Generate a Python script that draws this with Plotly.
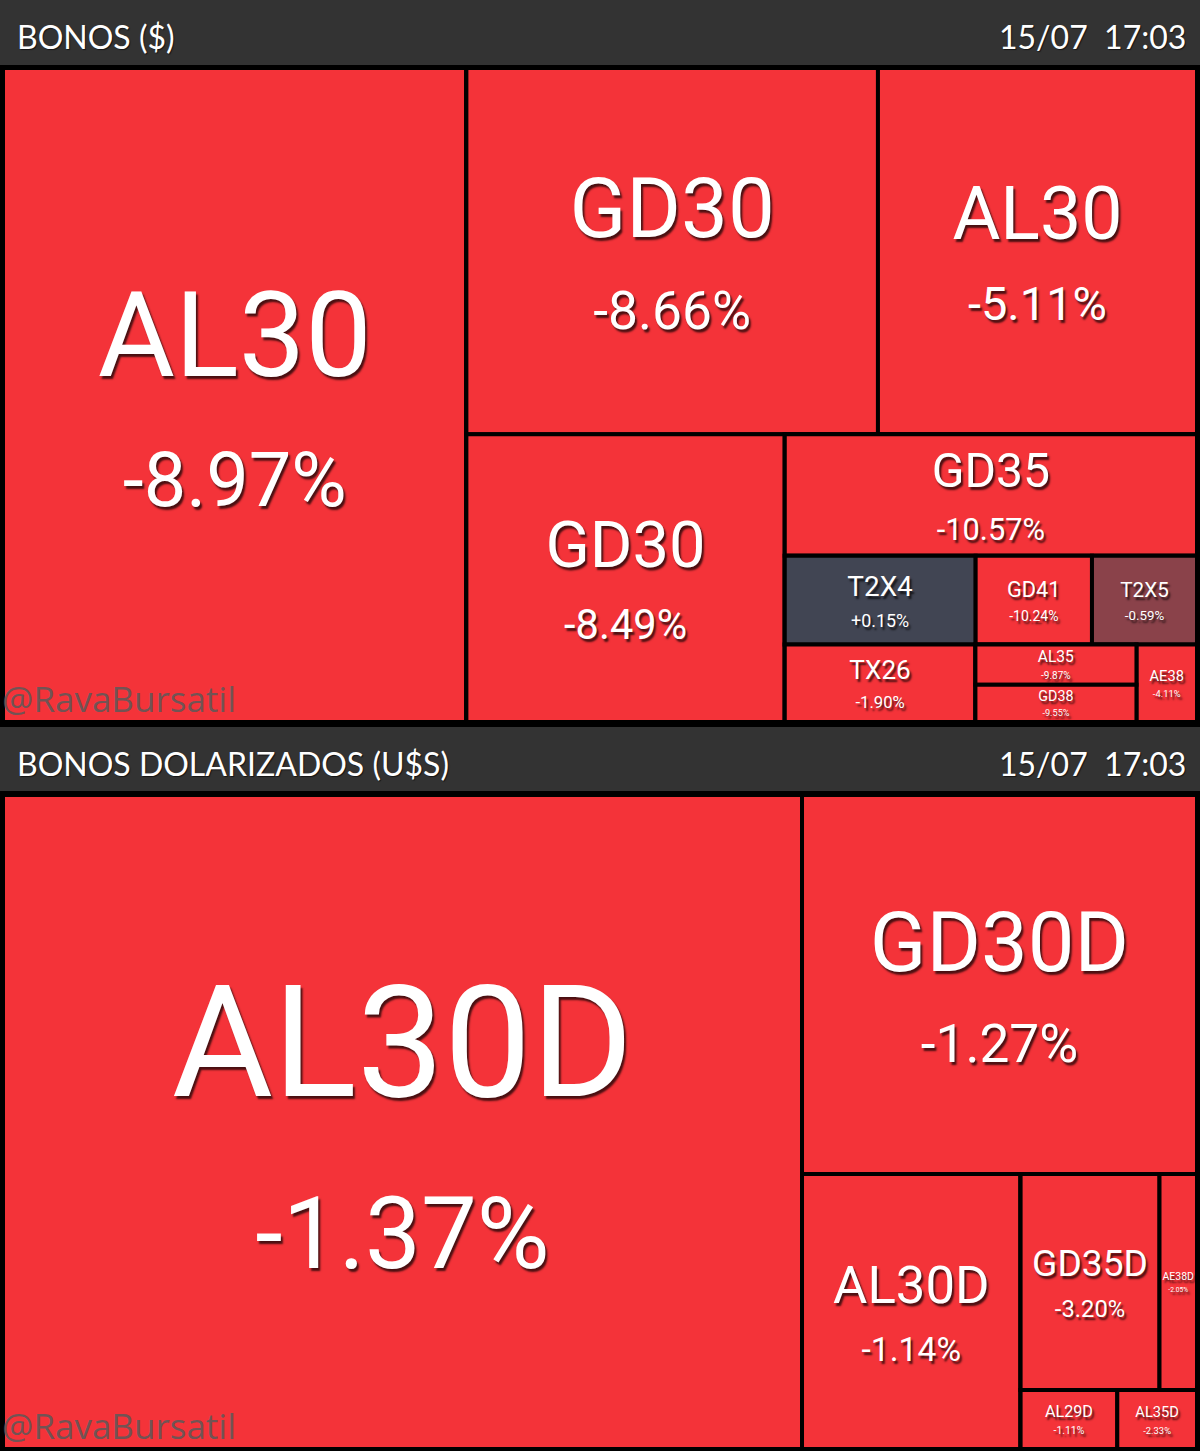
import math
import plotly.graph_objects as go

W, H = 1200, 1451

# ---------------- Panel 1: BONOS ($) ----------------
p1_title = "BONOS ($)"
p1_stamp = "15/07\u00a0\u00a017:03"
p1_ids = ["r", "AL30", "g1", "g1a", "GD30", "AL30b", "g1b", "GD30b", "g1b2", "GD35",
          "g1b2r2", "T2X4", "GD41", "T2X5", "g1b2r3", "TX26", "g1b2r3c", "AL35", "GD38", "AE38"]
p1_labels = ["", "AL30", "", "", "GD30", "AL30", "", "GD30", "", "GD35",
             "", "T2X4", "GD41", "T2X5", "", "TX26", "", "AL35", "GD38", "AE38"]
p1_parents = ["", "r", "r", "g1", "g1a", "g1a", "g1", "g1b", "g1b", "g1b2",
              "g1b2", "g1b2r2", "g1b2r2", "g1b2r2", "g1b2", "g1b2r3", "g1b2r3", "g1b2r3c", "g1b2r3c", "g1b2r3"]
p1_volume = [0, 303.1, 0, 0, 150.8, 116.9, 0, 91.6, 0, 50.1,
             0, 16.9, 10.3, 9.3, 0, 14.8, 0, 6.5, 6.0, 4.7]
p1_change = [None, -8.97, None, None, -8.66, -5.11, None, -8.49, None, -10.57,
             None, 0.15, -10.24, -0.59, None, -1.90, None, -9.87, -9.55, -4.11]

# ---------------- Panel 2: BONOS DOLARIZADOS (U$S) ----------------
p2_title = "BONOS DOLARIZADOS (U$S)"
p2_stamp = "15/07\u00a0\u00a017:03"
p2_ids = ["r", "AL30D", "h1", "GD30D", "h1b", "AL30D2", "h1b2", "h1b2a", "GD35D", "AE38D",
          "h1b2b", "AL29D", "AL35D"]
p2_labels = ["", "AL30D", "", "GD30D", "", "AL30D", "", "", "GD35D", "AE38D",
             "", "AL29D", "AL35D"]
p2_parents = ["", "r", "r", "h1", "h1", "h1b", "h1b", "h1b2", "h1b2a", "h1b2a",
              "h1b2", "h1b2b", "h1b2b"]
p2_volume = [0, 522.5, 0, 149.7, 0, 60.1, 0, 0, 30.0, 8.1, 0, 5.7, 4.7]
p2_change = [None, -1.37, None, -1.27, None, -1.14, None, None, -3.20, -2.05, None, -1.11, -2.33]

RED = "#F43339"
UP = "#414553"
FLAT_DOWN = "#8A424A"


def color_for(c):
    if c is None:
        return RED
    if c >= 0:
        return UP
    if c > -1:
        return FLAT_DOWN
    return RED


def make_trace(ids, labels, parents, volume, change, dom_x, dom_y):
    total = sum(volume)
    px_area = (dom_x[1] - dom_x[0]) * W * (dom_y[1] - dom_y[0]) * H
    texts, sizes, colors = [], [], []
    for i, (lab, v, c) in enumerate(zip(labels, volume, change)):
        if c is None:
            texts.append("")
            sizes.append(10)
        else:
            fs = min(0.215 * math.sqrt(v / total * px_area), 175)
            pfs = round(fs * 0.64, 1)
            texts.append(f"<span style='font-size:{round(fs, 1)}px'>{lab}</span><br>"
                         f"<span style='font-size:{pfs}px'>{c:+.2f}%</span>")
            sizes.append(round(fs * 0.85, 1))
        colors.append("black" if parents[i] == "" else color_for(c))
    return go.Treemap(
        ids=ids, labels=labels, parents=parents, values=volume,
        text=texts, texttemplate="%{text}", textposition="middle center",
        textfont=dict(family="Roboto", size=sizes, color="white",
                      shadow="2px 3px 2px rgba(0,0,0,0.7)"),
        marker=dict(colors=colors, line=dict(width=4, color="black"),
                    pad=dict(t=0, l=0, r=0, b=0), depthfade=False),
        tiling=dict(packing="slice-dice", pad=0),
        sort=False, branchvalues="remainder",
        pathbar=dict(visible=False),
        hoverinfo="skip",
        domain=dict(x=dom_x, y=dom_y),
    )


def py(pix):
    return 1 - pix / H


dx = [3 / W, 1197 / W]
fig = go.Figure()
fig.add_trace(make_trace(p1_ids, p1_labels, p1_parents, p1_volume, p1_change, dx, [py(722), py(68)]))
fig.add_trace(make_trace(p2_ids, p2_labels, p2_parents, p2_volume, p2_change, dx, [py(1449), py(795)]))

shapes = []
annotations = []
for (top, bot, title, stamp, wm_y) in [(0, 65, p1_title, p1_stamp, 724), (727, 791, p2_title, p2_stamp, 1451)]:
    shapes.append(dict(type="rect", xref="paper", yref="paper", x0=0, x1=1, y0=py(bot), y1=py(top),
                       fillcolor="#333333", line=dict(width=0), layer="below"))
    mid = (top + bot) / 2 + 4
    annotations.append(dict(text=title, xref="paper", yref="paper", x=15 / W, y=py(mid),
                            xanchor="left", yanchor="middle", showarrow=False,
                            font=dict(family="Lato", size=32, color="white",
                                      shadow="1px 1px 1px rgba(0,0,0,0.6)")))
    annotations.append(dict(text=stamp, xref="paper", yref="paper", x=1188 / W, y=py(mid),
                            xanchor="right", yanchor="middle", showarrow=False,
                            font=dict(family="Lato", size=32, color="white",
                                      shadow="1px 1px 1px rgba(0,0,0,0.6)")))
    annotations.append(dict(text="@RavaBursatil", xref="paper", yref="paper", x=0, y=py(wm_y),
                            xanchor="left", yanchor="bottom", showarrow=False,
                            font=dict(family="Open Sans", size=35, color="rgba(90,90,90,0.85)")))

fig.update_layout(width=W, height=H, margin=dict(l=0, r=0, t=0, b=0),
                  paper_bgcolor="black", plot_bgcolor="black",
                  shapes=shapes, annotations=annotations, showlegend=False)

fig.write_html("out.html", config={"displayModeBar": False},
               post_script="document.body.style.margin='0';document.body.style.padding='0';"
                           "document.body.style.background='black';")
